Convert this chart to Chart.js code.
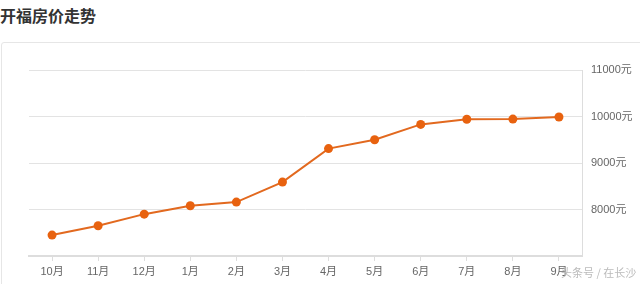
<!DOCTYPE html>
<html>
<head>
<meta charset="utf-8">
<script src="https://cdn.jsdelivr.net/npm/chart.js@4"></script>
<style>
  body { margin: 0; background: #fff; width: 640px; height: 284px; overflow: hidden; position: relative; }
  #title { position: absolute; left: 0; top: 3px; font: bold 16px "Noto Sans CJK SC", sans-serif; color: #333; }
  #card { position: absolute; left: 1px; top: 42px; width: 660px; height: 260px; border: 1px solid #e6e6e6; border-radius: 3px; }
  #wrap { position: absolute; left: 0; top: 0; width: 640px; height: 284px; }
  #mark { position: absolute; left: 561px; top: 264px; font: 11px "Noto Sans CJK SC", sans-serif; color: #bbb; white-space: nowrap; }
</style>
</head>
<body>
<div id="title">开福房价走势</div>
<div id="card"></div>
<div id="wrap"><canvas id="chart"></canvas></div>
<div id="mark">头条号 / 在长沙</div>
<script>
// 数据
const months = ['10月', '11月', '12月', '1月', '2月', '3月', '4月', '5月', '6月', '7月', '8月', '9月'];
const prices = [7450, 7650, 7900, 8080, 8160, 8590, 9310, 9500, 9830, 9940, 9945, 9990];
const yTicks = [7000, 8000, 9000, 10000, 11000];

const tickFont = { family: '"Liberation Sans", "Noto Sans CJK SC", sans-serif', size: 11 };

new Chart(document.getElementById('chart').getContext('2d'), {
  type: 'line',
  data: {
    labels: months,
    datasets: [{
      data: prices,
      borderColor: '#e2691f',
      backgroundColor: '#e8620f',
      borderWidth: 2,
      pointRadius: 4.5,
      pointBorderWidth: 0,
      tension: 0
    }]
  },
  options: {
    responsive: true,
    maintainAspectRatio: false,
    animation: false,
    layout: { padding: { left: 29, top: 70, right: 0, bottom: 0 } },
    plugins: { legend: { display: false }, tooltip: { enabled: false } },
    scales: {
      x: {
        offset: true,
        grid: { drawOnChartArea: false, drawTicks: true, tickLength: 5, color: '#ddd' },
        border: { color: '#ddd', width: 2 },
        ticks: { color: '#666', font: tickFont, padding: 4, maxRotation: 0 },
        afterFit: s => { s.height = 28; }
      },
      y: {
        position: 'right',
        min: 7000,
        max: 11000,
        afterBuildTicks: s => { s.ticks = yTicks.map(v => ({ value: v })); },
        grid: { color: '#e3e3e3', drawTicks: false },
        border: { color: '#ddd', width: 1 },
        ticks: {
          color: '#666',
          font: tickFont,
          padding: 9,
          callback: v => v === 7000 ? '' : v + '元'
        },
        afterFit: s => { s.width = 58; }
      }
    }
  }
});
</script>
</body>
</html>
